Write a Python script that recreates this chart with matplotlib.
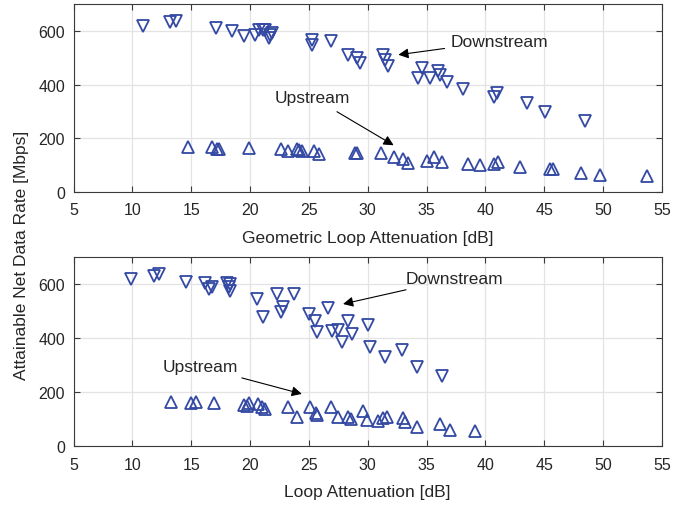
import numpy as np
import matplotlib.pyplot as plt

plt.rcParams['font.family'] = ['Liberation Sans', 'DejaVu Sans']

# geometric loop attenuation - downstream
geo_ds_x = [10.9, 13.2, 13.7, 17.1, 18.5, 19.5, 20.4, 20.8, 21.1, 21.3, 21.7, 21.9, 21.6,
            25.3, 25.3, 26.9, 28.3, 29.1, 29.3, 31.3, 31.5, 31.7,
            34.6, 34.3, 35.3, 36.0, 36.1, 36.7, 38.1, 40.7, 41.0, 43.5, 45.1, 48.5]
geo_ds_y = [618, 634, 638, 611, 601, 580, 584, 602, 602, 602, 584, 592, 575,
            567, 549, 564, 511, 499, 480, 511, 492, 468,
            461, 424, 424, 449, 436, 411, 384, 355, 367, 330, 299, 264]
# geometric loop attenuation - upstream
geo_us_x = [14.75, 16.8, 17.2, 17.4, 19.9, 22.6, 23.2, 24.0, 24.2, 24.4, 25.4, 25.9,
            28.9, 29.1, 31.1, 32.2, 33.0, 33.4, 35.0, 35.6, 36.3,
            38.5, 39.5, 40.7, 41.1, 42.9, 45.5, 45.7, 48.1, 49.7, 53.7]
geo_us_y = [168, 168, 161, 161, 164, 161, 151, 159, 155, 151, 151, 141,
            146, 146, 146, 130, 124, 109, 114, 130, 111,
            105, 99, 105, 111, 93, 84, 86, 71, 64, 59]

# loop attenuation - downstream
la_ds_x = [9.9, 11.8, 12.3, 14.6, 16.2, 16.5, 16.8, 18.0, 18.3, 18.2, 18.3,
           20.6, 21.1, 22.3, 22.8, 22.6, 23.7, 25.0, 25.5, 25.7, 26.6,
           27.0, 27.5, 27.8, 28.3, 28.7, 30.0, 30.2, 31.5, 32.9, 34.2, 36.3]
la_ds_y = [620, 632, 638, 607, 604, 583, 589, 604, 601, 589, 574,
           545, 480, 564, 515, 496, 564, 490, 465, 422, 512,
           428, 431, 385, 465, 416, 450, 369, 330, 357, 295, 262]
# loop attenuation - upstream
la_us_x = [13.3, 15.0, 15.4, 16.9, 19.5, 19.7, 19.9, 20.7, 21.0, 21.3, 23.2, 24.0,
           25.1, 25.6, 25.7, 26.9, 27.5, 28.3, 28.6, 29.6, 29.9, 30.9, 31.3, 31.6,
           33.0, 33.2, 34.2, 36.1, 37.0, 39.1]
la_us_y = [165, 159, 163, 159, 153, 150, 159, 157, 147, 138, 144, 107,
           144, 122, 117, 144, 110, 107, 101, 130, 97, 95, 105, 109,
           105, 89, 70, 83, 60, 58]

col = '#3349a3'
txt = '#262626'

fig = plt.figure(figsize=(6.94, 5.10), dpi=100)
ax1 = fig.add_axes([73.5/694, 1-193/510, (662-73.5)/694, 188/510])
ax2 = fig.add_axes([73.5/694, 1-447.3/510, (662-73.5)/694, 189/510])

def style(ax, xlabel):
    ax.set_xlim(5, 55)
    ax.set_ylim(0, 700)
    ax.set_xticks(np.arange(5, 56, 5))
    ax.set_yticks([0, 200, 400, 600])
    ax.grid(True, color='#e3e3e3', linewidth=0.9)
    ax.set_axisbelow(True)
    for s in ax.spines.values():
        s.set_color('#3a3a3a')
        s.set_linewidth(0.8)
    ax.tick_params(direction='in', length=4, colors='#3a3a3a', labelcolor=txt,
                   labelsize=11.5, top=True, right=True)
    ax.tick_params(axis='x', pad=7.5)
    ax.tick_params(axis='y', pad=6)
    ax.set_xlabel(xlabel, fontsize=12.5, color=txt, labelpad=9)

ax1.plot(geo_ds_x, geo_ds_y, 'v', ms=9, mfc='none', mec=col, mew=1.3)
ax1.plot(geo_us_x, geo_us_y, '^', ms=9, mfc='none', mec=col, mew=1.3)
style(ax1, 'Geometric Loop Attenuation [dB]')
ax1.annotate('Downstream', xy=(32.6, 511), xytext=(37.0, 562), fontsize=12.5, color=txt,
             va='center', ha='left',
             arrowprops=dict(arrowstyle='-|>', color='black', lw=0.8, mutation_scale=15,
                             shrinkA=2, shrinkB=0))
ax1.annotate('Upstream', xy=(32.2, 174), xytext=(25.3, 353), fontsize=12.5, color=txt,
             va='center', ha='center',
             arrowprops=dict(arrowstyle='-|>', color='black', lw=0.8, mutation_scale=15,
                             shrinkA=6, shrinkB=0))

ax2.plot(la_ds_x, la_ds_y, 'v', ms=9, mfc='none', mec=col, mew=1.3)
ax2.plot(la_us_x, la_us_y, '^', ms=9, mfc='none', mec=col, mew=1.3)
style(ax2, 'Loop Attenuation [dB]')
ax2.annotate('Downstream', xy=(27.9, 527), xytext=(33.2, 620), fontsize=12.5, color=txt,
             va='center', ha='left',
             arrowprops=dict(arrowstyle='-|>', color='black', lw=0.8, mutation_scale=15,
                             shrinkA=2, shrinkB=0))
ax2.annotate('Upstream', xy=(24.4, 194), xytext=(12.6, 294), fontsize=12.5, color=txt,
             va='center', ha='left',
             arrowprops=dict(arrowstyle='-|>', color='black', lw=0.8, mutation_scale=15,
                             shrinkA=2, shrinkB=0))

fig.text(22/694, 1-255/510, 'Attainable Net Data Rate [Mbps]', rotation=90,
         ha='center', va='center', fontsize=12.5, color=txt)

fig.savefig('out.png', dpi=100)
